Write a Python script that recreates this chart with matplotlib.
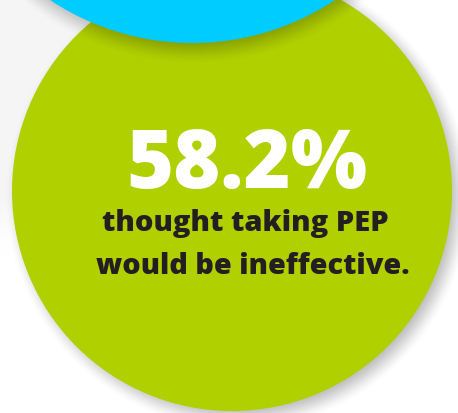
import numpy as np
import matplotlib.pyplot as plt
from matplotlib.patches import Circle

# ---- data ----
stat_value = "58.2%"
caption_lines = ["thought taking PEP", "would be ineffective."]

# ---- style ----
W, H = 458, 413
GREEN = "#b0d000"
CYAN = "#00ccff"
DARK = "#231f20"
BG_GRAY = 0.962
FONT = ["Open Sans", "DejaVu Sans"]

fig = plt.figure(figsize=(W / 100, H / 100), dpi=100)
ax = fig.add_axes([0, 0, 1, 1])
ax.set_xlim(0, W)
ax.set_ylim(H, 0)
ax.axis("off")

yy, xx = np.mgrid[0:H, 0:W] + 0.5


def smooth(t):
    t = np.clip(t, 0, 1)
    return t * t * (3 - 2 * t)


def soft_disc(cx, cy, r, blur):
    d = np.hypot(xx - cx, yy - cy)
    return smooth((r + blur - d) / (2 * blur))


# background: white with a soft light-gray region at upper left
g = soft_disc(-113, 0, 250, 30)
bg = 1.0 - (1.0 - BG_GRAY) * g
bg_img = np.dstack([bg, bg, bg])
ax.imshow(bg_img, extent=(0, W, H, 0), zorder=0, interpolation="bilinear")

# green circle geometry
gcx, gcy, gr = 232, 191, 220
# cyan circle geometry
ccx, ccy, cr = 192.5, -214.6, 257.6

# green drop shadow
sh = soft_disc(gcx + 6, gcy + 6, gr, 14) * 0.28
sh_img = np.zeros((H, W, 4))
sh_img[..., 3] = sh
ax.imshow(sh_img, extent=(0, W, H, 0), zorder=1, interpolation="bilinear")

ax.add_patch(Circle((gcx, gcy), gr, facecolor=GREEN, edgecolor="none", zorder=2))

# cyan drop shadow
sh2 = soft_disc(ccx + 2, ccy + 8, cr, 14) * 0.24
sh2_img = np.zeros((H, W, 4))
sh2_img[..., 3] = sh2
ax.imshow(sh2_img, extent=(0, W, H, 0), zorder=3, interpolation="bilinear")

ax.add_patch(Circle((ccx, ccy), cr, facecolor=CYAN, edgecolor="none", zorder=4))

# text
ax.text(247, 188, stat_value, color="white", fontsize=58, fontweight="heavy",
        family=FONT, ha="center", va="baseline", zorder=5)
ax.text(245, 231, caption_lines[0], color=DARK, fontsize=21, fontweight="heavy",
        family=FONT, ha="center", va="baseline", zorder=5)
ax.text(253, 274, caption_lines[1], color=DARK, fontsize=20.8, fontweight="heavy",
        family=FONT, ha="center", va="baseline", zorder=5)

fig.savefig("out.png", dpi=100)
